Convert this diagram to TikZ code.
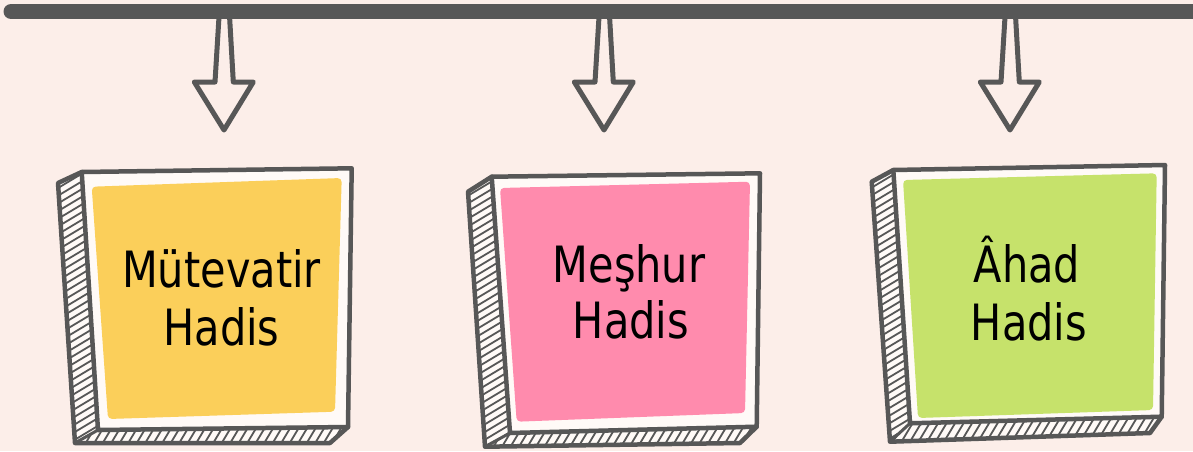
\documentclass[tikz,border=0pt]{standalone}
\usepackage{fontspec}
\setmainfont{DejaVu Sans}[FakeStretch=0.83]
\definecolor{bgc}{HTML}{FCEEE9}
\definecolor{paper}{HTML}{FFFAF7}
\definecolor{gr}{HTML}{575757}
\definecolor{yel}{HTML}{FBCF5A}
\definecolor{pnk}{HTML}{FF8BAD}
\definecolor{grn}{HTML}{C6E26B}
% #1 prefix, #2 fill colour, #3 x start of side hatch, #4 list of x for bottom hatch
\newcommand\drawcard[4]{%
  \fill[paper] (#1s1) -- (#1f1) -- (#1f4) -- (#1f3) -- (#1b2) -- (#1s2) -- cycle;
  \begin{scope}
    \clip (#1s1) -- (#1f1) -- (#1f4) -- (#1s2) -- cycle;
    \foreach \hh in {165,172.7,...,500} \draw[hatch] (#3,\hh) -- ++(80,-48);
  \end{scope}
  \begin{scope}
    \clip (#1s2) -- (#1f4) -- (#1f3) -- (#1b2) -- cycle;
    \foreach \hh in {#4} \draw[hatch] (\hh,460) -- ++(30,-50);
  \end{scope}
  \filldraw[frame, fill=paper] (#1f1) -- (#1f2) -- (#1f3) -- (#1f4) -- cycle;
  \fill[#2, rounded corners=4pt] (#1i1) -- (#1i2) -- (#1i3) -- (#1i4) -- cycle;
  \draw[frame] (#1f1) -- (#1s1) -- (#1s2) -- (#1b2) -- (#1f3);
  \draw[frame, line width=3pt] (#1s2) -- (#1f4);
}
\begin{document}
\begin{tikzpicture}[x=1pt,y=-1pt,
  frame/.style={draw=gr, line width=4.5pt, line join=round, line cap=round},
  hatch/.style={draw=gr, line width=1.8pt},
  lbl/.style={font=\fontsize{50}{56}\selectfont, inner sep=0pt, anchor=base, text=black},
  arrowshape/.style={draw=gr, fill=bgc, line width=5pt, line join=round},
  bar/.style={draw=gr, line width=15pt, line cap=round}]
\fill[bgc] (0,0) rectangle (1193,451);
\useasboundingbox (0,0) rectangle (1193,451);

% down arrows
\foreach \t in {224,604,1010}
  \draw[arrowshape] (\t-4.7,12) -- (\t-9,82) -- (\t-29.7,82) -- (\t,130) -- (\t+29.3,82) -- (\t+9.3,82) -- (\t+5.3,12) -- cycle;

% top bar
\coordinate (barL) at (11,11.5);
\coordinate (barR) at (1205,11.5);
\draw[bar] (barL) -- (barR);

% card 1
\coordinate (Af1) at (81.7,172);   \coordinate (Af2) at (351.7,168.3);
\coordinate (Af3) at (348,427);    \coordinate (Af4) at (98,430);
\coordinate (As1) at (58,183);     \coordinate (As2) at (75,443);
\coordinate (Ab2) at (330,443);
\coordinate (Ai1) at (91.7,186.7); \coordinate (Ai2) at (341.7,178);
\coordinate (Ai3) at (335,411.7);  \coordinate (Ai4) at (108,419);
\drawcard{A}{yel}{45}{50,58.5,...,360}

% card 2
\coordinate (Bf1) at (491.7,176.7); \coordinate (Bf2) at (760,173.3);
\coordinate (Bf3) at (756.7,426.7); \coordinate (Bf4) at (510,433);
\coordinate (Bs1) at (468,191.7);   \coordinate (Bs2) at (485,446.7);
\coordinate (Bb2) at (740,443);
\coordinate (Bi1) at (500,188);     \coordinate (Bi2) at (750,181.7);
\coordinate (Bi3) at (745,413);     \coordinate (Bi4) at (516.7,421.7);
\drawcard{B}{pnk}{455}{460,468.5,...,770}

% card 3
\coordinate (Cf1) at (893.3,170);   \coordinate (Cf2) at (1165,165);
\coordinate (Cf3) at (1161.7,416.7);\coordinate (Cf4) at (910,423.3);
\coordinate (Cs1) at (871.7,181.7); \coordinate (Cs2) at (890,441.7);
\coordinate (Cb2) at (1150,433);
\coordinate (Ci1) at (903,180);     \coordinate (Ci2) at (1156.7,173.3);
\coordinate (Ci3) at (1153,410);    \coordinate (Ci4) at (918,418);
\drawcard{C}{grn}{858}{865,873.5,...,1175}

% labels
\node[lbl] (ta1) at (221.5,287) {Mütevatir};
\node[lbl] (ta2) at (221.5,345) {Hadis};
\node[lbl] (tb1) at (629,282) {Meşhur};
\node[lbl] (tb2) at (631,338.5) {Hadis};
\node[lbl] (tc1) at (1027,282) {Âhad};
\node[lbl] (tc2) at (1029,340) {Hadis};
\end{tikzpicture}
\end{document}
